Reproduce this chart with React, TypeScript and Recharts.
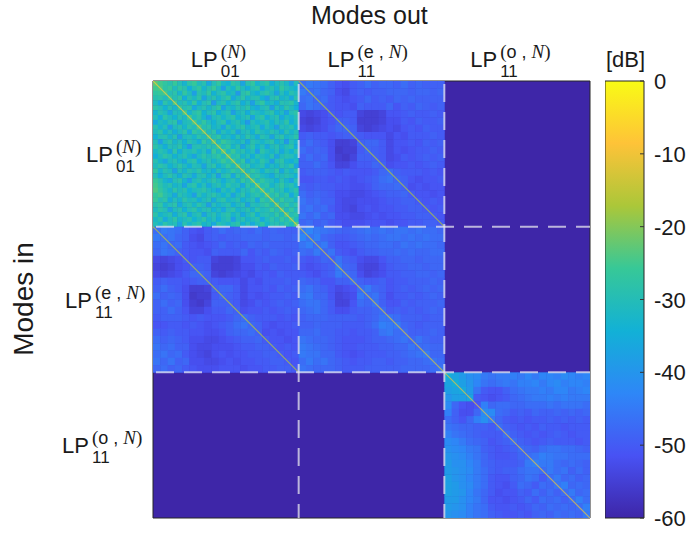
import { Bar, ComposedChart, ReferenceArea, Scatter, ScatterChart, XAxis, YAxis } from "recharts";

// attenuation in dB
const block00 = [
  [23, 25, 27, 29, 26, 30, 33, 28, 26, 31, 29, 36, 30, 27, 32, 34, 28, 30, 37, 29, 27, 33, 30, 28, 35, 31, 29, 32, 38, 30],
  [25, 24, 28, 26, 31, 27, 29, 35, 30, 27, 33, 29, 26, 31, 38, 30, 33, 27, 31, 35, 30, 28, 36, 31, 29, 33, 27, 30, 32, 34],
  [27, 26, 25, 30, 28, 33, 27, 31, 38, 29, 31, 27, 34, 30, 28, 33, 31, 39, 29, 27, 32, 35, 30, 28, 31, 37, 30, 34, 29, 31],
  [29, 28, 31, 26, 30, 27, 35, 29, 32, 28, 37, 31, 29, 33, 30, 27, 36, 31, 28, 33, 30, 29, 34, 38, 30, 28, 33, 31, 36, 29],
  [31, 36, 28, 32, 25, 31, 29, 33, 27, 35, 30, 28, 39, 31, 29, 34, 30, 28, 35, 31, 38, 30, 27, 33, 31, 35, 29, 30, 28, 33],
  [28, 30, 34, 29, 33, 26, 30, 28, 36, 31, 29, 33, 30, 27, 37, 31, 33, 29, 31, 28, 33, 36, 31, 29, 38, 30, 33, 28, 31, 35],
  [33, 29, 31, 37, 30, 31, 25, 33, 29, 27, 34, 30, 28, 35, 31, 29, 38, 32, 30, 35, 29, 31, 33, 30, 28, 34, 31, 37, 30, 28],
  [30, 35, 28, 31, 34, 29, 32, 25, 31, 28, 33, 38, 31, 29, 33, 30, 28, 34, 31, 29, 37, 30, 28, 35, 31, 29, 36, 31, 33, 30],
  [36, 31, 33, 29, 28, 37, 31, 30, 25, 31, 27, 31, 34, 30, 28, 36, 31, 29, 33, 39, 30, 33, 31, 29, 34, 30, 32, 28, 35, 31],
  [29, 33, 30, 38, 31, 29, 33, 28, 31, 24, 30, 28, 33, 31, 37, 29, 33, 30, 28, 33, 31, 29, 36, 30, 33, 38, 30, 31, 29, 34],
  [31, 28, 34, 30, 35, 31, 28, 36, 27, 30, 25, 31, 28, 36, 30, 33, 29, 37, 31, 30, 34, 28, 31, 33, 29, 31, 35, 29, 33, 30],
  [34, 30, 29, 33, 29, 38, 31, 30, 33, 28, 31, 25, 30, 27, 33, 31, 35, 29, 33, 28, 31, 36, 29, 31, 37, 30, 28, 33, 31, 28],
  [30, 38, 31, 28, 33, 30, 34, 29, 31, 35, 27, 31, 24, 31, 26, 29, 31, 33, 30, 36, 29, 31, 33, 30, 28, 34, 31, 39, 30, 33],
  [28, 31, 35, 30, 31, 28, 33, 39, 30, 29, 31, 28, 30, 25, 30, 27, 33, 29, 37, 31, 28, 34, 30, 36, 31, 29, 33, 30, 28, 35],
  [32, 29, 31, 36, 28, 35, 30, 31, 29, 33, 30, 36, 26, 31, 24, 31, 26, 31, 29, 33, 30, 38, 28, 31, 33, 30, 36, 31, 34, 29],
  [35, 31, 28, 30, 34, 31, 29, 33, 37, 31, 28, 31, 29, 27, 31, 24, 30, 28, 33, 30, 35, 29, 31, 33, 29, 37, 31, 29, 30, 33],
  [29, 33, 37, 31, 29, 33, 36, 30, 28, 35, 31, 29, 33, 30, 26, 30, 25, 31, 27, 36, 30, 33, 28, 31, 38, 30, 28, 33, 35, 31],
  [31, 28, 30, 34, 31, 28, 31, 35, 30, 31, 37, 30, 28, 34, 31, 27, 31, 24, 30, 28, 33, 31, 29, 35, 31, 33, 29, 31, 28, 37],
  [27, 33, 29, 31, 38, 30, 33, 29, 31, 28, 33, 31, 35, 29, 33, 31, 27, 30, 25, 31, 27, 30, 34, 29, 31, 28, 36, 30, 33, 29],
  [30, 35, 31, 28, 31, 35, 29, 31, 36, 30, 29, 34, 30, 38, 30, 28, 36, 28, 31, 24, 30, 28, 31, 33, 36, 30, 31, 29, 31, 34],
  [26, 29, 33, 36, 30, 28, 33, 38, 31, 29, 33, 31, 28, 31, 35, 31, 29, 33, 27, 30, 25, 31, 27, 30, 31, 34, 29, 33, 37, 30],
  [25, 28, 31, 29, 33, 31, 37, 30, 28, 34, 30, 36, 31, 29, 33, 28, 31, 30, 36, 28, 31, 24, 30, 28, 33, 30, 27, 31, 29, 33],
  [24, 27, 30, 33, 28, 31, 29, 34, 31, 30, 28, 31, 33, 37, 30, 33, 29, 35, 30, 31, 27, 30, 25, 31, 27, 31, 29, 34, 31, 28],
  [27, 25, 29, 31, 36, 29, 31, 33, 38, 29, 33, 30, 28, 31, 34, 30, 37, 31, 28, 33, 30, 28, 31, 24, 30, 27, 31, 28, 36, 30],
  [26, 30, 28, 35, 30, 33, 28, 31, 30, 35, 31, 29, 36, 30, 28, 33, 31, 29, 34, 31, 29, 36, 27, 30, 25, 31, 26, 30, 29, 33],
  [29, 27, 33, 30, 28, 36, 31, 29, 33, 28, 31, 38, 30, 33, 31, 29, 35, 31, 29, 37, 30, 31, 29, 27, 31, 24, 30, 27, 31, 28],
  [31, 28, 30, 37, 31, 29, 34, 30, 28, 33, 30, 29, 34, 31, 36, 30, 28, 33, 31, 29, 33, 28, 31, 30, 26, 30, 25, 31, 27, 31],
  [28, 33, 31, 29, 35, 30, 28, 36, 31, 29, 37, 31, 29, 33, 30, 28, 33, 30, 36, 31, 28, 34, 30, 29, 31, 27, 31, 24, 30, 28],
  [32, 29, 36, 31, 28, 33, 31, 29, 34, 31, 28, 33, 30, 35, 31, 29, 38, 31, 29, 33, 31, 29, 36, 31, 28, 31, 27, 30, 25, 31],
  [30, 33, 28, 31, 30, 37, 29, 33, 30, 28, 33, 31, 36, 29, 31, 33, 30, 28, 34, 30, 36, 31, 28, 33, 30, 29, 31, 28, 31, 24],
];

const block01 = [
  [47, 45, 46, 47, 49, 51, 52, 50, 49, 47, 49, 48, 48, 49, 47, 49, 48, 49, 49, 49],
  [45, 47, 46, 48, 49, 52, 53, 50, 49, 50, 49, 49, 48, 48, 48, 49, 48, 48, 49, 48],
  [47, 46, 48, 47, 50, 51, 52, 51, 50, 48, 50, 49, 50, 48, 49, 48, 49, 49, 49, 49],
  [48, 46, 47, 49, 50, 51, 51, 52, 49, 50, 50, 50, 48, 51, 49, 50, 48, 49, 50, 49],
  [53, 54, 53, 52, 50, 51, 50, 50, 54, 55, 55, 54, 51, 51, 50, 49, 50, 50, 49, 50],
  [54, 55, 54, 52, 51, 49, 49, 50, 55, 55, 55, 54, 52, 52, 50, 51, 49, 50, 50, 49],
  [53, 54, 53, 52, 50, 48, 48, 49, 54, 55, 54, 53, 52, 53, 51, 50, 51, 49, 50, 50],
  [50, 49, 50, 50, 51, 50, 49, 49, 50, 51, 51, 51, 53, 51, 52, 50, 50, 50, 49, 50],
  [49, 47, 49, 50, 52, 55, 55, 54, 49, 48, 48, 50, 53, 51, 51, 50, 51, 49, 50, 49],
  [47, 49, 48, 49, 52, 56, 55, 55, 50, 48, 49, 50, 53, 51, 52, 51, 50, 50, 49, 50],
  [49, 47, 49, 48, 52, 55, 56, 54, 49, 49, 49, 50, 53, 52, 50, 51, 50, 49, 50, 49],
  [49, 49, 47, 49, 51, 54, 54, 52, 50, 50, 48, 49, 52, 51, 51, 50, 51, 50, 49, 50],
  [50, 49, 49, 49, 50, 51, 50, 51, 51, 51, 50, 48, 47, 49, 50, 50, 50, 51, 50, 51],
  [51, 51, 50, 50, 51, 50, 51, 52, 51, 50, 49, 47, 46, 48, 49, 51, 52, 51, 51, 50],
  [49, 50, 49, 50, 50, 51, 51, 52, 52, 51, 49, 48, 48, 47, 49, 52, 51, 52, 51, 51],
  [47, 49, 48, 49, 50, 52, 52, 53, 53, 52, 51, 50, 49, 49, 48, 50, 51, 51, 52, 51],
  [46, 48, 47, 49, 49, 52, 53, 53, 52, 52, 52, 51, 50, 50, 49, 49, 50, 51, 50, 51],
  [47, 46, 48, 47, 50, 52, 53, 54, 52, 51, 52, 51, 51, 50, 50, 49, 49, 50, 51, 50],
  [46, 48, 46, 49, 48, 52, 52, 53, 53, 52, 51, 52, 51, 51, 50, 50, 49, 49, 50, 51],
  [48, 47, 49, 48, 50, 51, 52, 52, 52, 51, 51, 51, 52, 51, 51, 50, 50, 49, 49, 50],
];

const block11 = [
  [45, 43, 45, 46, 47, 48, 49, 48, 47, 46, 47, 46, 47, 46, 46, 47, 46, 47, 47, 48],
  [43, 46, 44, 48, 49, 50, 50, 49, 48, 47, 48, 47, 46, 46, 47, 46, 47, 46, 47, 47],
  [46, 44, 47, 45, 49, 51, 51, 50, 49, 48, 48, 47, 47, 48, 46, 47, 46, 47, 47, 48],
  [47, 48, 45, 48, 46, 50, 51, 52, 50, 49, 49, 48, 48, 47, 48, 47, 48, 48, 47, 47],
  [50, 51, 50, 48, 49, 46, 49, 50, 52, 53, 53, 51, 49, 49, 48, 48, 49, 48, 48, 48],
  [51, 52, 51, 50, 49, 45, 48, 49, 53, 54, 54, 52, 50, 49, 49, 48, 48, 49, 48, 48],
  [50, 51, 52, 50, 49, 45, 47, 48, 52, 54, 53, 52, 50, 50, 49, 49, 48, 48, 49, 48],
  [48, 49, 49, 51, 51, 49, 49, 47, 49, 50, 50, 49, 51, 50, 50, 49, 49, 49, 48, 49],
  [47, 46, 48, 49, 51, 53, 52, 51, 47, 45, 48, 49, 51, 50, 49, 50, 49, 48, 49, 48],
  [46, 45, 48, 48, 51, 54, 53, 52, 45, 47, 46, 49, 52, 50, 50, 49, 50, 49, 48, 49],
  [47, 46, 46, 48, 50, 54, 54, 51, 47, 48, 46, 49, 51, 51, 49, 50, 49, 49, 49, 48],
  [48, 47, 46, 48, 50, 52, 52, 50, 49, 49, 48, 47, 50, 49, 50, 49, 50, 49, 48, 49],
  [49, 48, 48, 48, 49, 49, 49, 49, 50, 49, 48, 46, 46, 47, 49, 49, 49, 50, 49, 49],
  [49, 49, 48, 49, 49, 49, 50, 50, 50, 49, 47, 44, 45, 45, 48, 49, 50, 49, 49, 49],
  [48, 48, 47, 49, 49, 50, 50, 51, 50, 50, 49, 46, 45, 47, 47, 49, 49, 49, 48, 49],
  [46, 47, 48, 48, 49, 50, 51, 51, 51, 50, 49, 49, 48, 47, 46, 48, 46, 48, 49, 49],
  [45, 46, 47, 48, 49, 50, 51, 51, 50, 50, 50, 49, 49, 48, 48, 46, 47, 47, 48, 48],
  [45, 46, 46, 48, 48, 50, 51, 52, 51, 50, 50, 50, 49, 49, 48, 47, 46, 45, 48, 48],
  [47, 45, 47, 46, 48, 49, 50, 51, 50, 50, 49, 49, 50, 49, 49, 48, 48, 47, 46, 47],
  [46, 47, 48, 48, 48, 49, 50, 50, 50, 49, 49, 49, 49, 49, 48, 48, 48, 48, 47, 46],
];

const block22 = [
  [35, 37, 39, 41, 42, 45, 46, 45, 45, 44, 45, 43, 45, 43, 43, 44, 42, 43, 44, 43],
  [37, 35, 38, 40, 43, 46, 47, 46, 45, 46, 44, 44, 43, 45, 43, 42, 44, 43, 43, 44],
  [38, 37, 36, 39, 46, 50, 51, 51, 49, 47, 46, 45, 45, 44, 45, 43, 43, 45, 44, 43],
  [40, 38, 38, 37, 50, 51, 52, 51, 50, 48, 47, 46, 45, 45, 44, 45, 44, 45, 45, 45],
  [42, 48, 51, 52, 51, 44, 48, 47, 47, 48, 48, 47, 47, 47, 46, 47, 46, 46, 46, 47],
  [44, 49, 52, 52, 48, 42, 42, 47, 48, 50, 49, 50, 48, 49, 49, 48, 49, 48, 49, 48],
  [47, 49, 51, 48, 44, 41, 45, 48, 50, 51, 50, 51, 50, 50, 49, 50, 49, 50, 49, 50],
  [46, 47, 48, 48, 49, 49, 50, 47, 49, 50, 51, 50, 51, 49, 50, 50, 51, 50, 50, 50],
  [44, 46, 47, 48, 49, 50, 50, 50, 47, 49, 50, 51, 50, 51, 50, 49, 50, 51, 50, 50],
  [42, 43, 45, 47, 48, 49, 51, 50, 49, 47, 49, 50, 51, 50, 49, 50, 50, 50, 51, 50],
  [41, 42, 43, 45, 46, 49, 50, 51, 50, 49, 47, 48, 49, 47, 46, 46, 47, 47, 48, 49],
  [40, 41, 42, 44, 46, 48, 50, 51, 51, 50, 48, 47, 46, 44, 45, 46, 46, 47, 47, 47],
  [39, 41, 41, 43, 45, 48, 49, 50, 50, 50, 49, 45, 44, 45, 45, 47, 48, 47, 48, 49],
  [39, 40, 41, 42, 45, 47, 49, 50, 49, 49, 47, 46, 46, 47, 45, 47, 46, 49, 47, 49],
  [38, 40, 41, 43, 45, 47, 50, 51, 51, 49, 48, 46, 47, 50, 47, 45, 48, 47, 49, 48],
  [38, 39, 41, 42, 45, 47, 50, 51, 52, 50, 47, 48, 50, 47, 48, 46, 44, 48, 47, 48],
  [38, 39, 40, 43, 46, 48, 50, 52, 51, 51, 49, 50, 47, 49, 47, 49, 47, 45, 48, 47],
  [39, 39, 41, 43, 45, 48, 51, 51, 52, 51, 50, 48, 50, 47, 48, 47, 49, 47, 44, 47],
  [39, 40, 41, 44, 46, 47, 50, 51, 51, 50, 51, 50, 48, 49, 47, 48, 47, 48, 47, 44],
  [40, 41, 42, 44, 46, 47, 49, 50, 51, 51, 50, 51, 49, 48, 49, 47, 48, 47, 48, 45],
];

const blockGrid = [
  { row: 0, col: 0, rows: block00, diagLevel: -7 },
  { row: 0, col: 1, rows: block01, diagLevel: -16 },
  { row: 1, col: 0, rows: block01, diagLevel: -16 },
  { row: 1, col: 1, rows: block11, diagLevel: -12 },
  { row: 2, col: 2, rows: block22, diagLevel: -10 },
];

const floorLevel = -60;
const blockTicks = [10, 30, 50];
const splitLines = [20, 40];
const colorbarTicks = [0, -10, -20, -30, -40, -50, -60];

const modeLabels = [
  { sub: "01", mode: "", outLeft: 35, inLeft: 86 },
  { sub: "11", mode: "e , ", outLeft: 44, inLeft: 65 },
  { sub: "11", mode: "o , ", outLeft: 47, inLeft: 62 },
];

// parula
const parula = [
  [62, 38, 168],
  [72, 82, 244],
  [46, 135, 247],
  [18, 177, 214],
  [55, 200, 151],
  [171, 199, 57],
  [254, 195, 56],
  [249, 251, 21],
];

const sans = "Liberation Sans, Arial, sans-serif";
const serif = "Liberation Serif, Times New Roman, serif";
const PLOT = 437;

function levelColor(db: number) {
  const t = Math.min(1, Math.max(0, (db + 60) / 60)) * (parula.length - 1);
  const i = Math.min(parula.length - 2, Math.floor(t));
  const f = t - i;
  const c = parula[i].map((v, k) => Math.round(v + (parula[i + 1][k] - v) * f));
  return `rgb(${c[0]},${c[1]},${c[2]})`;
}

const cells = blockGrid.flatMap((b) => {
  const n = b.rows.length;
  return b.rows.flatMap((r, i) =>
    r.map((loss, j) => ({
      x: b.col * 20 + ((j + 0.5) * 20) / n,
      y: b.row * 20 + ((i + 0.5) * 20) / n,
      db: -loss,
      n,
    })),
  );
});

function HeatCell(props: any) {
  const { cx, cy, payload } = props;
  const size = PLOT / 3 / payload.n;
  return (
    <rect
      x={cx - size / 2}
      y={cy - size / 2}
      width={size + 0.4}
      height={size + 0.4}
      fill={levelColor(payload.db)}
    />
  );
}

function ModeLabel({ x, y, label }: any) {
  return (
    <g fill="#1a1a1a">
      <text x={x} y={y} fontSize={22} fontFamily={sans}>
        LP
      </text>
      <text x={x + 30} y={y + 10} fontSize={17} fontFamily={sans}>
        {label.sub}
      </text>
      <text x={x + 30} y={y - 9} fontSize={18} fontFamily={sans} xmlSpace="preserve">
        <tspan fontFamily={serif} fontSize={19}>(</tspan>
        {label.mode}
        <tspan fontFamily={serif} fontStyle="italic" fontSize={19}>N</tspan>
        <tspan fontFamily={serif} fontSize={19}>)</tspan>
      </text>
    </g>
  );
}

function OutTick({ x, index }: any) {
  const label = modeLabels[index];
  return <ModeLabel x={x - label.outLeft} y={67} label={label} />;
}

function InTick({ y, index }: any) {
  const label = modeLabels[index];
  return <ModeLabel x={label.inLeft} y={y + 8} label={label} />;
}

function BarTick({ x, y, payload }: any) {
  const edge = x - 8;
  return (
    <g>
      <line x1={edge - 4} x2={edge} y1={y} y2={y} stroke="#333" />
      <text x={edge + 10} y={y + 8} fontSize={22} fontFamily={sans} fill="#1a1a1a">
        {payload.value}
      </text>
    </g>
  );
}

function NoPoint() {
  return null;
}

export default function App() {
  const dash = { stroke: "#e6e6ee", strokeOpacity: 0.75, strokeWidth: 2, strokeDasharray: "18 10", strokeDashoffset: -3 };
  return (
    <div style={{ position: "absolute", left: 0, top: 0, width: 688, height: 533, background: "#fff", overflow: "hidden" }}>
      <ScatterChart width={688} height={533} margin={{ top: 0, right: 98, bottom: 15, left: 0 }}>
        <XAxis
          type="number"
          dataKey="x"
          orientation="top"
          domain={[0, 60]}
          ticks={blockTicks}
          height={81}
          tickLine={false}
          axisLine={false}
          tick={<OutTick />}
          interval={0}
          allowDataOverflow
        />
        <YAxis
          type="number"
          dataKey="y"
          reversed
          domain={[0, 60]}
          ticks={blockTicks}
          width={153}
          tickLine={false}
          axisLine={false}
          tick={<InTick />}
          interval={0}
          allowDataOverflow
        />
        <ReferenceArea x1={0} x2={60} y1={0} y2={60} fill={levelColor(floorLevel)} fillOpacity={1} stroke="#262626" strokeWidth={1} />
        <Scatter data={cells} shape={<HeatCell />} isAnimationActive={false} />
        {blockGrid.map((b) => (
          <Scatter
            key={`${b.row}-${b.col}`}
            data={[
              { x: b.col * 20, y: b.row * 20 },
              { x: b.col * 20 + 20, y: b.row * 20 + 20 },
            ]}
            line={{ stroke: levelColor(b.diagLevel), strokeWidth: 1.2, strokeOpacity: 0.7 }}
            shape={<NoPoint />}
            isAnimationActive={false}
          />
        ))}
        {splitLines.map((v) => (
          <Scatter
            key={`x${v}`}
            data={[
              { x: v, y: 0 },
              { x: v, y: 60 },
            ]}
            line={dash}
            shape={<NoPoint />}
            isAnimationActive={false}
          />
        ))}
        {splitLines.map((v) => (
          <Scatter
            key={`y${v}`}
            data={[
              { x: 0, y: v },
              { x: 60, y: v },
            ]}
            line={dash}
            shape={<NoPoint />}
            isAnimationActive={false}
          />
        ))}
      </ScatterChart>

      <div style={{ position: "absolute", left: 311, top: 0, fontFamily: sans, fontSize: 25, lineHeight: "30px", color: "#1a1a1a", whiteSpace: "nowrap" }}>
        Modes out
      </div>
      <div
        style={{
          position: "absolute",
          left: 24,
          top: 299,
          fontFamily: sans,
          fontSize: 28,
          lineHeight: "30px",
          color: "#1a1a1a",
          whiteSpace: "nowrap",
          transform: "translate(-50%, -50%) rotate(-90deg)",
        }}
      >
        Modes in
      </div>
      <div style={{ position: "absolute", left: 606, top: 47, fontFamily: sans, fontSize: 22, lineHeight: "26px", color: "#1a1a1a" }}>
        [dB]
      </div>

      <div style={{ position: "absolute", left: 605, top: 61 }}>
        <ComposedChart
          width={83}
          height={472}
          data={[{ name: "dB", range: [-60, 0] }]}
          margin={{ top: 20, right: 0, bottom: 15, left: 0 }}
          barCategoryGap={0}
        >
          <defs>
            <linearGradient id="parulaRamp" x1="0" y1="1" x2="0" y2="0">
              {parula.map((_, i) => (
                <stop key={i} offset={i / (parula.length - 1)} stopColor={levelColor(-60 + (60 * i) / (parula.length - 1))} />
              ))}
            </linearGradient>
          </defs>
          <XAxis dataKey="name" hide />
          <YAxis
            orientation="right"
            type="number"
            domain={[-60, 0]}
            ticks={colorbarTicks}
            width={44}
            tickLine={false}
            axisLine={false}
            tick={<BarTick />}
            interval={0}
          />
          <Bar dataKey="range" fill="url(#parulaRamp)" stroke="#262626" strokeWidth={1} isAnimationActive={false} />
        </ComposedChart>
      </div>
    </div>
  );
}
